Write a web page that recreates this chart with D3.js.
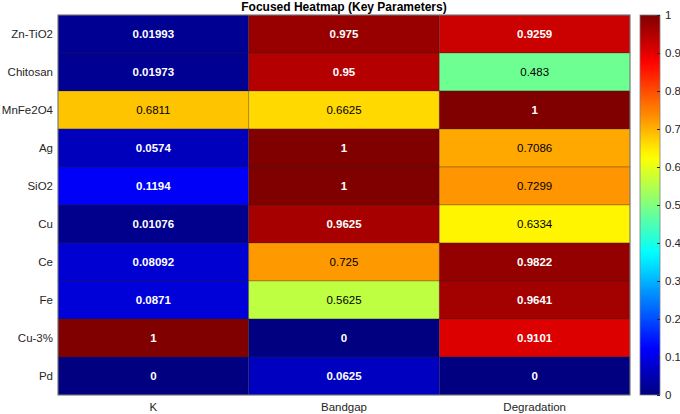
<!DOCTYPE html>
<html>
<head>
<meta charset="utf-8">
<script src="https://cdn.jsdelivr.net/npm/d3@7"></script>
<style>
  body { margin: 0; background: #fff; }
  text { font-family: "Liberation Sans", Arial, sans-serif; }
</style>
</head>
<body>
<svg id="heatmap" width="680" height="414"></svg>
<script>
// data
const rowLabels = ["Zn-TiO2", "Chitosan", "MnFe2O4", "Ag", "SiO2", "Cu", "Ce", "Fe", "Cu-3%", "Pd"];
const colLabels = ["K", "Bandgap", "Degradation"];
const kValues = [0.01993, 0.01973, 0.6811, 0.0574, 0.1194, 0.01076, 0.08092, 0.0871, 1, 0];
const bandgapValues = [0.975, 0.95, 0.6625, 1, 1, 0.9625, 0.725, 0.5625, 0, 0.0625];
const degradationValues = [0.9259, 0.483, 1, 0.7086, 0.7299, 0.6334, 0.9822, 0.9641, 0.9101, 0];
const colorTicks = [0, 0.1, 0.2, 0.3, 0.4, 0.5, 0.6, 0.7, 0.8, 0.9, 1];

function drawHeatmap() {
    const svg = d3.select("#heatmap");
    const margin = { top: 15, left: 58 };
    const gridW = 572, gridH = 380;

    const series = [kValues, bandgapValues, degradationValues];
    const cells = [];
    rowLabels.forEach((r, i) => {
        colLabels.forEach((c, j) => {
            cells.push({ row: r, col: c, value: series[j][i] });
        });
    });

    // MATLAB style jet colormap, 256 levels
    const clamp = v => Math.max(0, Math.min(1, v));
    function jetRGB(t) {
        t = Math.round(clamp(t) * 255) / 255;
        return [clamp(1.5 - Math.abs(4 * t - 3)), clamp(1.5 - Math.abs(4 * t - 2)), clamp(1.5 - Math.abs(4 * t - 1))];
    }
    const jet = t => {
        const c = jetRGB(t);
        return d3.rgb(c[0] * 255, c[1] * 255, c[2] * 255).formatHex();
    };
    const textColor = t => {
        const c = jetRGB(t);
        return (0.299 * c[0] + 0.587 * c[1] + 0.114 * c[2]) > 0.5 ? "#000" : "#fff";
    };

    const x = d3.scaleBand().domain(colLabels).range([0, gridW]);
    const y = d3.scaleBand().domain(rowLabels).range([0, gridH]);

    const g = svg.append("g").attr("transform", `translate(${margin.left},${margin.top})`);

    g.selectAll("rect.cell")
        .data(cells)
        .enter().append("rect")
        .attr("class", "cell")
        .attr("x", d => x(d.col))
        .attr("y", d => y(d.row))
        .attr("width", x.bandwidth())
        .attr("height", y.bandwidth())
        .attr("fill", d => jet(d.value))
        .attr("stroke", "rgba(38,38,38,0.35)")
        .attr("stroke-width", 0.8);

    g.selectAll("text.val")
        .data(cells)
        .enter().append("text")
        .attr("class", "val")
        .attr("x", d => x(d.col) + x.bandwidth() / 2)
        .attr("y", d => y(d.row) + y.bandwidth() / 2)
        .attr("dy", "0.35em")
        .attr("text-anchor", "middle")
        .attr("font-size", "11.5px")
        .attr("font-weight", d => textColor(d.value) === "#fff" ? "bold" : "normal")
        .attr("fill", d => textColor(d.value))
        .text(d => d.value);

    // outer frame
    g.append("rect")
        .attr("width", gridW).attr("height", gridH)
        .attr("fill", "none").attr("stroke", "#7f7f7f").attr("stroke-width", 1);

    // row labels
    g.selectAll("text.rowlab")
        .data(rowLabels)
        .enter().append("text")
        .attr("class", "rowlab")
        .attr("x", -5)
        .attr("y", d => y(d) + y.bandwidth() / 2)
        .attr("dy", "0.35em")
        .attr("text-anchor", "end")
        .attr("font-size", "11.5px")
        .attr("fill", "#262626")
        .text(d => d);

    // column labels
    g.selectAll("text.collab")
        .data(colLabels)
        .enter().append("text")
        .attr("class", "collab")
        .attr("x", d => x(d) + x.bandwidth() / 2)
        .attr("y", gridH + 16)
        .attr("text-anchor", "middle")
        .attr("font-size", "11.5px")
        .attr("fill", "#262626")
        .text(d => d);

    // title
    svg.append("text")
        .attr("x", margin.left + gridW / 2)
        .attr("y", 11)
        .attr("text-anchor", "middle")
        .attr("font-size", "12px")
        .attr("font-weight", "bold")
        .attr("fill", "#000")
        .text("Focused Heatmap (Key Parameters)");

    // colorbar
    const cbX = 640, cbW = 20;
    const cy = d3.scaleLinear().domain([0, 1]).range([margin.top + gridH, margin.top]);
    const defs = svg.append("defs");
    const grad = defs.append("linearGradient")
        .attr("id", "jetgrad")
        .attr("x1", 0).attr("y1", 1).attr("x2", 0).attr("y2", 0);
    d3.range(0, 1.0001, 0.02).forEach(t => {
        grad.append("stop").attr("offset", t).attr("stop-color", jet(t));
    });
    svg.append("rect")
        .attr("x", cbX).attr("y", cy(1))
        .attr("width", cbW).attr("height", cy(0) - cy(1))
        .attr("fill", "url(#jetgrad)")
        .attr("stroke", "#7f7f7f").attr("stroke-width", 0.8);

    const cbAxis = svg.append("g")
        .attr("transform", `translate(${cbX + cbW},0)`)
        .call(d3.axisRight(cy).tickValues(colorTicks).tickSize(-3).tickPadding(5).tickFormat(d3.format("")));
    cbAxis.select(".domain").remove();
    cbAxis.selectAll("line").attr("stroke", "#262626");
    cbAxis.selectAll("text")
        .attr("font-size", "11.5px")
        .attr("fill", "#262626")
        .attr("font-family", "Liberation Sans, Arial, sans-serif");
}

drawHeatmap();
</script>
</body>
</html>
